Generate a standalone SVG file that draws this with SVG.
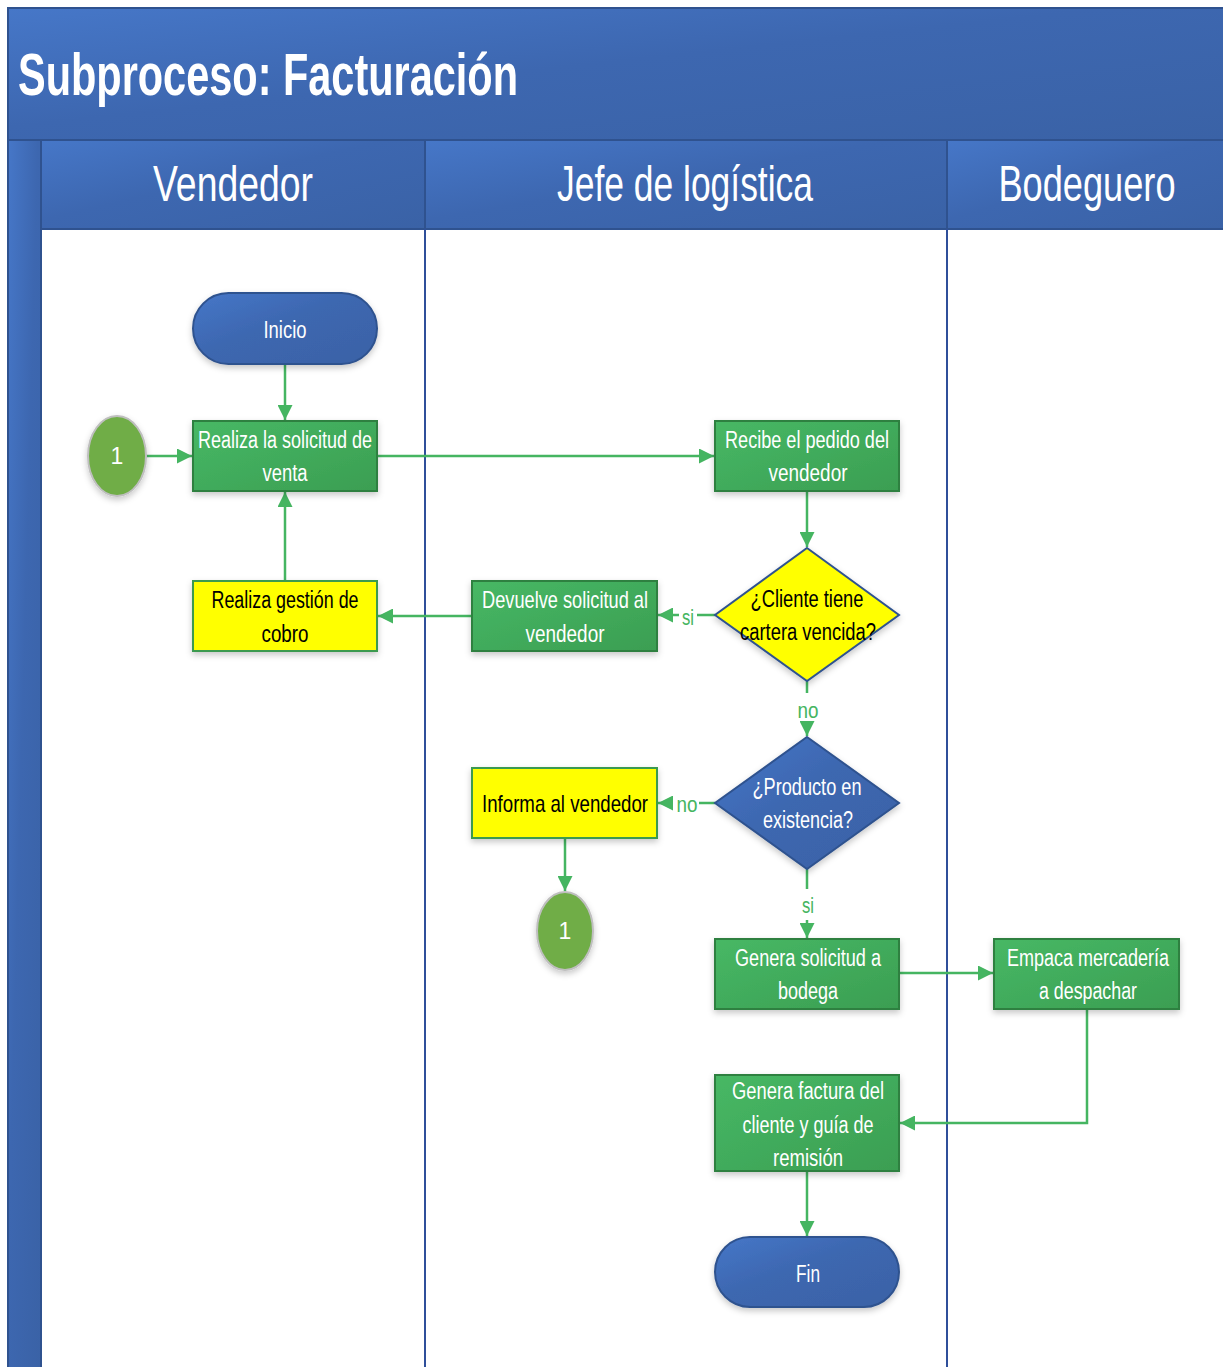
<svg xmlns="http://www.w3.org/2000/svg" width="1223" height="1367" viewBox="0 0 1223 1367">
  <defs>
    <linearGradient id="gBlue" x1="0" y1="0" x2="1" y2="1">
      <stop offset="0" stop-color="#4677c8"/>
      <stop offset="0.45" stop-color="#3d67b0"/>
      <stop offset="1" stop-color="#3a62a6"/>
    </linearGradient>
    <linearGradient id="gGreen" x1="0" y1="0" x2="1" y2="1">
      <stop offset="0" stop-color="#47b865"/>
      <stop offset="1" stop-color="#3b9e52"/>
    </linearGradient>
    <filter id="shadow" x="-20%" y="-20%" width="140%" height="150%">
      <feDropShadow dx="0" dy="3" stdDeviation="3" flood-color="#000" flood-opacity="0.22"/>
    </filter>
    <marker id="arrow" viewBox="0 0 10 10" refX="10" refY="5" markerWidth="6" markerHeight="6" markerUnits="strokeWidth" orient="auto">
      <path d="M0,0 L10,5 L0,10 z" fill="#45b561"/>
    </marker>
    <style>
      .lane { fill: url(#gBlue); stroke: #2f528f; stroke-width: 2; }
      .divider { stroke: #2f4f9a; stroke-width: 2; }
      .box { fill: url(#gGreen); stroke: #2e8040; stroke-width: 2; filter: url(#shadow); }
      .ybox { fill: #ffff00; stroke: #3a9a50; stroke-width: 2; filter: url(#shadow); }
      .term { fill: url(#gBlue); stroke: #2f528f; stroke-width: 2; filter: url(#shadow); }
      .ydia { fill: #ffff00; stroke: #2f528f; stroke-width: 2; filter: url(#shadow); }
      .bdia { fill: url(#gBlue); stroke: #2f528f; stroke-width: 2; filter: url(#shadow); }
      .conn { fill: #70ad47; stroke: #bfbfbf; stroke-width: 2; filter: url(#shadow); }
      .edge { fill: none; stroke: #45b561; stroke-width: 2.5; }
      text { font-family: "Liberation Sans", Arial, sans-serif; text-anchor: middle; }
      .t { font-size: 23px; fill: #ffffff; }
      .k { font-size: 23px; fill: #000000; }
      .lbl { font-size: 22px; fill: #45b561; }
      .hdr { font-size: 50px; fill: #ffffff; }
    </style>
  </defs>

  <rect width="1223" height="1367" fill="#ffffff"/>

  <!-- pool, title bar and the three lanes -->
  <g id="pool">
    <rect class="lane" x="8" y="8" width="1225" height="132"/>
    <text x="18" y="95" style="text-anchor:start;font-size:60px;font-weight:bold;fill:#fff" textLength="500" lengthAdjust="spacingAndGlyphs">Subproceso: Facturación</text>
    <rect class="lane" x="8" y="140" width="33" height="1240"/>
    <rect class="lane" x="41" y="140" width="384" height="89"/>
    <rect class="lane" x="425" y="140" width="522" height="89"/>
    <rect class="lane" x="947" y="140" width="290" height="89"/>
    <text class="hdr" x="233" y="201" textLength="160" lengthAdjust="spacingAndGlyphs">Vendedor</text>
    <text class="hdr" x="685" y="201" textLength="256" lengthAdjust="spacingAndGlyphs">Jefe de logística</text>
    <text class="hdr" transform="translate(1087,201) scale(0.724,1)" x="0" y="0">Bodeguero</text>
    <line class="divider" x1="425" y1="229" x2="425" y2="1367"/>
    <line class="divider" x1="947" y1="229" x2="947" y2="1367"/>
  </g>

  <!-- connectors -->
  <g id="connectors">
    <path class="edge" d="M285,364 V420" marker-end="url(#arrow)"/>
    <path class="edge" d="M146,456 H192" marker-end="url(#arrow)"/>
    <path class="edge" d="M377,456 H714" marker-end="url(#arrow)"/>
    <path class="edge" d="M807,491 V547" marker-end="url(#arrow)"/>
    <path class="edge" d="M715,615 H697 M679,615 H658" marker-end="url(#arrow)"/>
    <path class="edge" d="M472,616 H378" marker-end="url(#arrow)"/>
    <path class="edge" d="M285,581 V492" marker-end="url(#arrow)"/>
    <path class="edge" d="M807,681 V693 M807,724 V736" marker-end="url(#arrow)"/>
    <path class="edge" d="M715,803 H699 M673,803 H658" marker-end="url(#arrow)"/>
    <path class="edge" d="M565,838 V891" marker-end="url(#arrow)"/>
    <path class="edge" d="M807,869 V889 M807,920 V938" marker-end="url(#arrow)"/>
    <path class="edge" d="M899,973 H993" marker-end="url(#arrow)"/>
    <path class="edge" d="M1087,1009 V1123 H900" marker-end="url(#arrow)"/>
    <path class="edge" d="M807,1171 V1236" marker-end="url(#arrow)"/>
    <text class="lbl" x="688" y="625" textLength="12" lengthAdjust="spacingAndGlyphs">si</text>
    <text class="lbl" x="808" y="718" textLength="21" lengthAdjust="spacingAndGlyphs">no</text>
    <text class="lbl" x="687" y="812" textLength="21" lengthAdjust="spacingAndGlyphs">no</text>
    <text class="lbl" x="808" y="913" textLength="12" lengthAdjust="spacingAndGlyphs">si</text>
  </g>

  <g id="inicio">
    <rect class="term" x="193" y="293" width="184" height="71" rx="35.5"/>
    <text class="t" x="285" y="338" textLength="43" lengthAdjust="spacingAndGlyphs">Inicio</text>
  </g>

  <g id="conector-1a">
    <ellipse class="conn" cx="117" cy="456" rx="29" ry="40"/>
    <text class="t" x="117" y="464">1</text>
  </g>

  <g id="realiza-solicitud">
    <rect class="box" x="193" y="421" width="184" height="70"/>
    <text class="t" x="285" y="448" textLength="174" lengthAdjust="spacingAndGlyphs">Realiza la solicitud de</text>
    <text class="t" x="285" y="481" textLength="45" lengthAdjust="spacingAndGlyphs">venta</text>
  </g>

  <g id="recibe-pedido">
    <rect class="box" x="715" y="421" width="184" height="70"/>
    <text class="t" x="807" y="448" textLength="164" lengthAdjust="spacingAndGlyphs">Recibe el pedido del</text>
    <text class="t" x="808" y="481" textLength="79" lengthAdjust="spacingAndGlyphs">vendedor</text>
  </g>

  <g id="cartera-vencida">
    <polygon class="ydia" points="807,548 899,615 807,681 715,615"/>
    <text class="k" x="807" y="607" textLength="113" lengthAdjust="spacingAndGlyphs">¿Cliente tiene</text>
    <text class="k" x="808" y="640" textLength="136" lengthAdjust="spacingAndGlyphs">cartera vencida?</text>
  </g>

  <g id="devuelve-solicitud">
    <rect class="box" x="472" y="581" width="185" height="70"/>
    <text class="t" transform="translate(565,608) scale(0.792,1)" x="0" y="0">Devuelve solicitud al</text>
    <text class="t" x="565" y="642" textLength="79" lengthAdjust="spacingAndGlyphs">vendedor</text>
  </g>

  <g id="gestion-cobro">
    <rect class="ybox" x="193" y="581" width="184" height="70"/>
    <text class="k" x="285" y="608" textLength="147" lengthAdjust="spacingAndGlyphs">Realiza gestión de</text>
    <text class="k" x="285" y="642" textLength="47" lengthAdjust="spacingAndGlyphs">cobro</text>
  </g>

  <g id="producto-existencia">
    <polygon class="bdia" points="807,737 899,803 807,869 715,803"/>
    <text class="t" x="807" y="795" textLength="109" lengthAdjust="spacingAndGlyphs">¿Producto en</text>
    <text class="t" x="808" y="828" textLength="90" lengthAdjust="spacingAndGlyphs">existencia?</text>
  </g>

  <g id="informa-vendedor">
    <rect class="ybox" x="472" y="768" width="185" height="70"/>
    <text class="k" transform="translate(565,812) scale(0.812,1)" x="0" y="0">Informa al vendedor</text>
  </g>

  <g id="conector-1b">
    <ellipse class="conn" cx="565" cy="931" rx="28" ry="39"/>
    <text class="t" x="565" y="939">1</text>
  </g>

  <g id="genera-solicitud">
    <rect class="box" x="715" y="939" width="184" height="70"/>
    <text class="t" x="808" y="966" textLength="146" lengthAdjust="spacingAndGlyphs">Genera solicitud a</text>
    <text class="t" x="808" y="999" textLength="60" lengthAdjust="spacingAndGlyphs">bodega</text>
  </g>

  <g id="empaca-mercaderia">
    <rect class="box" x="994" y="939" width="185" height="70"/>
    <text class="t" x="1088" y="966" textLength="162" lengthAdjust="spacingAndGlyphs">Empaca mercadería</text>
    <text class="t" x="1088" y="999" textLength="98" lengthAdjust="spacingAndGlyphs">a despachar</text>
  </g>

  <g id="genera-factura">
    <rect class="box" x="715" y="1075" width="184" height="96"/>
    <text class="t" x="808" y="1099" textLength="152" lengthAdjust="spacingAndGlyphs">Genera factura del</text>
    <text class="t" x="808" y="1133" textLength="131" lengthAdjust="spacingAndGlyphs">cliente y guía de</text>
    <text class="t" x="808" y="1166" textLength="70" lengthAdjust="spacingAndGlyphs">remisión</text>
  </g>

  <g id="fin">
    <rect class="term" x="715" y="1237" width="184" height="70" rx="35"/>
    <text class="t" x="808" y="1282" textLength="24" lengthAdjust="spacingAndGlyphs">Fin</text>
  </g>
</svg>
